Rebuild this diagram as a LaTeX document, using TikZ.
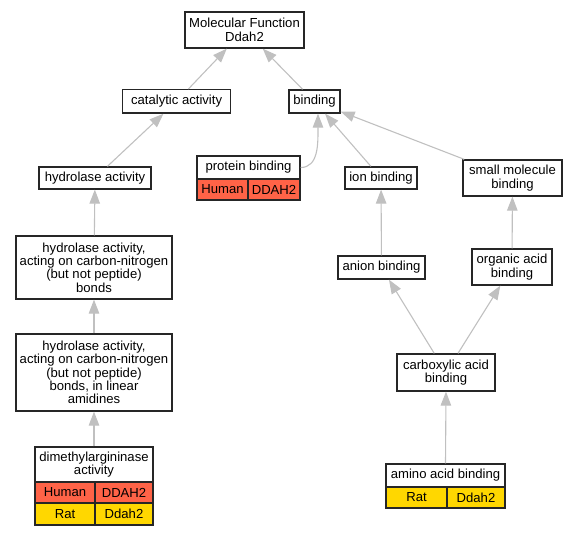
\documentclass[tikz,border=0pt]{standalone}
\usepackage{fontspec}
\setmainfont{Liberation Sans}
\usetikzlibrary{arrows.meta}
\definecolor{edgegray}{HTML}{C0C0C0}
\definecolor{humancol}{HTML}{FF6347}
\definecolor{ratcol}{HTML}{FFD700}
\newcommand{\gofont}{\fontsize{13.1}{13.4}\selectfont}
\begin{document}
\begin{tikzpicture}[x=1pt,y=-1pt,
  box/.style={draw=black!85, line width=1.3pt, fill=white, inner sep=0pt, align=center, font=\gofont},
  hcell/.style={box, fill=humancol},
  rcell/.style={box, fill=ratcol},
  edge/.style={draw=edgegray, line width=1.1pt, -{Triangle[length=14pt,width=10.5pt]}}]
\useasboundingbox (0,0) rectangle (576,536);
% nodes
\node[box, minimum width=119pt, minimum height=36pt] (mf) at (244.5,30) {Molecular Function\\Ddah2};
\node[box, minimum width=108pt, minimum height=23.4pt] (cat) at (176.6,101.4) {catalytic activity};
\node[box, minimum width=51pt, minimum height=23pt] (bind) at (314.5,101.5) {binding};
\node[box, minimum width=112pt, minimum height=22pt] (hyd) at (95,178) {hydrolase activity};
\node[box, minimum width=103pt, minimum height=23pt] (protT) at (248.5,167.5) {protein binding};
\node[hcell, minimum width=51pt, minimum height=21pt] (protH) at (222.5,189.5) {Human};
\node[hcell, minimum width=52pt, minimum height=21pt] (protG) at (274,189.5) {DDAH2};
\node[box, minimum width=72pt, minimum height=22pt] (ion) at (381,178) {ion binding};
\node[box, minimum width=99pt, minimum height=36pt] (small) at (512.5,178) {small molecule\\binding};
\node[box, minimum width=156pt, minimum height=63pt] (hcn) at (94,267.5) {hydrolase activity,\\acting on carbon-nitrogen\\(but not peptide)\\bonds};
\node[box, minimum width=156pt, minimum height=77pt] (hlin) at (94,372.5) {hydrolase activity,\\acting on carbon-nitrogen\\(but not peptide)\\bonds, in linear\\amidines};
\node[box, minimum width=118pt, minimum height=35pt] (dimT) at (94,464.5) {dimethylargininase\\activity};
\node[hcell, minimum width=60pt, minimum height=21pt] (dimH) at (65,492.5) {Human};
\node[hcell, minimum width=58pt, minimum height=21pt] (dimHG) at (124,492.5) {DDAH2};
\node[rcell, minimum width=60pt, minimum height=22pt] (dimR) at (65,514) {Rat};
\node[rcell, minimum width=58pt, minimum height=22pt] (dimRG) at (124,514) {Ddah2};
\node[box, minimum width=87pt, minimum height=23pt] (anion) at (381.5,267.5) {anion binding};
\node[box, minimum width=80pt, minimum height=36pt] (org) at (512,267) {organic acid\\binding};
\node[box, minimum width=98pt, minimum height=37pt] (carb) at (446,372.5) {carboxylic acid\\binding};
\node[box, minimum width=119pt, minimum height=23pt] (aminoT) at (445.5,475.5) {amino acid binding};
\node[rcell, minimum width=61pt, minimum height=21pt] (aminoR) at (416.5,497.5) {Rat};
\node[rcell, minimum width=58pt, minimum height=21pt] (aminoG) at (476,497.5) {Ddah2};
% edges
\draw[edge] (cat) -- (mf);
\draw[edge] (bind) -- (mf);
\draw[edge] (hyd) -- (cat);
\draw[edge] (protT.east) .. controls +(18,0) and +(0,30) .. ([xshift=3.5pt]bind.south);
\draw[edge] (ion) -- (bind);
\draw[edge] (small) -- (bind);
\draw[edge] (hcn) -- (hyd);
\draw[edge] (hlin) -- (hcn);
\draw[edge] (dimT) -- (hlin);
\draw[edge] (anion) -- (ion);
\draw[edge] (org) -- (small);
\draw[edge] (carb) -- (anion);
\draw[edge] (carb) -- (org);
\draw[edge] (aminoT.north) -- (carb.south);
\end{tikzpicture}
\end{document}
